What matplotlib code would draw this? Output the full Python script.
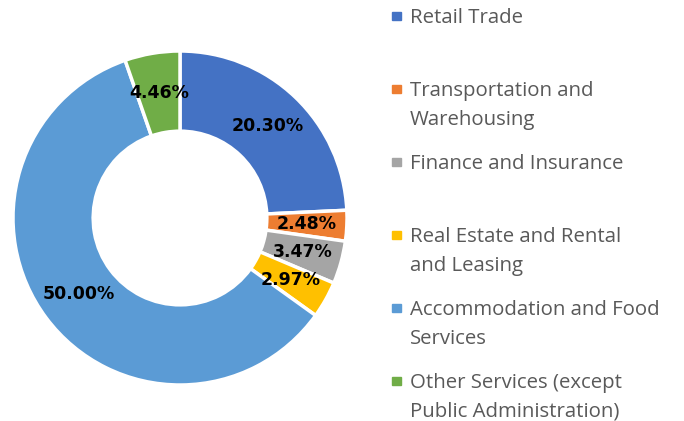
import matplotlib
matplotlib.use("Agg")
import matplotlib.pyplot as plt
import numpy as np

categories = ["Retail Trade", "Transportation and\nWarehousing", "Finance and Insurance",
              "Real Estate and Rental\nand Leasing", "Accommodation and Food\nServices",
              "Other Services (except\nPublic Administration)"]
values = [20.30, 2.48, 3.47, 2.97, 50.00, 4.46]
colors = ["#4472C4", "#ED7D31", "#A5A5A5", "#FFC000", "#5B9BD5", "#70AD47"]

W, H = 684, 421
fig = plt.figure(figsize=(W / 100, H / 100), dpi=100)
cx, cy, R = 180, 218, 167
ax = fig.add_axes([(cx - R) / W, (H - cy - R) / H, 2 * R / W, 2 * R / H])

wedges, _ = ax.pie(values, colors=colors, startangle=90, counterclock=False, radius=1,
                   wedgeprops=dict(width=0.48, edgecolor="white", linewidth=2.5))
ax.set_xlim(-1, 1)
ax.set_ylim(-1, 1)
ax.set_aspect("equal")
ax.axis("off")

for w, v in zip(wedges, values):
    ang = np.deg2rad((w.theta1 + w.theta2) / 2)
    r = 0.76
    ax.text(r * np.cos(ang), r * np.sin(ang), f"{v:.2f}%", ha="center", va="center",
            fontsize=12.5, fontweight="bold", family="DejaVu Sans", color="black")

baselines = [23, 96, 169, 242, 315, 388]
pitch = 29
for lab, col, yb in zip(categories, colors, baselines):
    fig.patches.append(plt.Rectangle((392 / W, 1 - 20 / H - (yb - 23) / H), 9 / W, 8 / H,
                                     transform=fig.transFigure, color=col))
    for i, line in enumerate(lab.split("\n")):
        fig.text(410 / W, 1 - (yb + i * pitch) / H, line, ha="left", va="baseline",
                 fontsize=14.7, family="Open Sans", color="#595959")

fig.savefig("out.png", dpi=100)
